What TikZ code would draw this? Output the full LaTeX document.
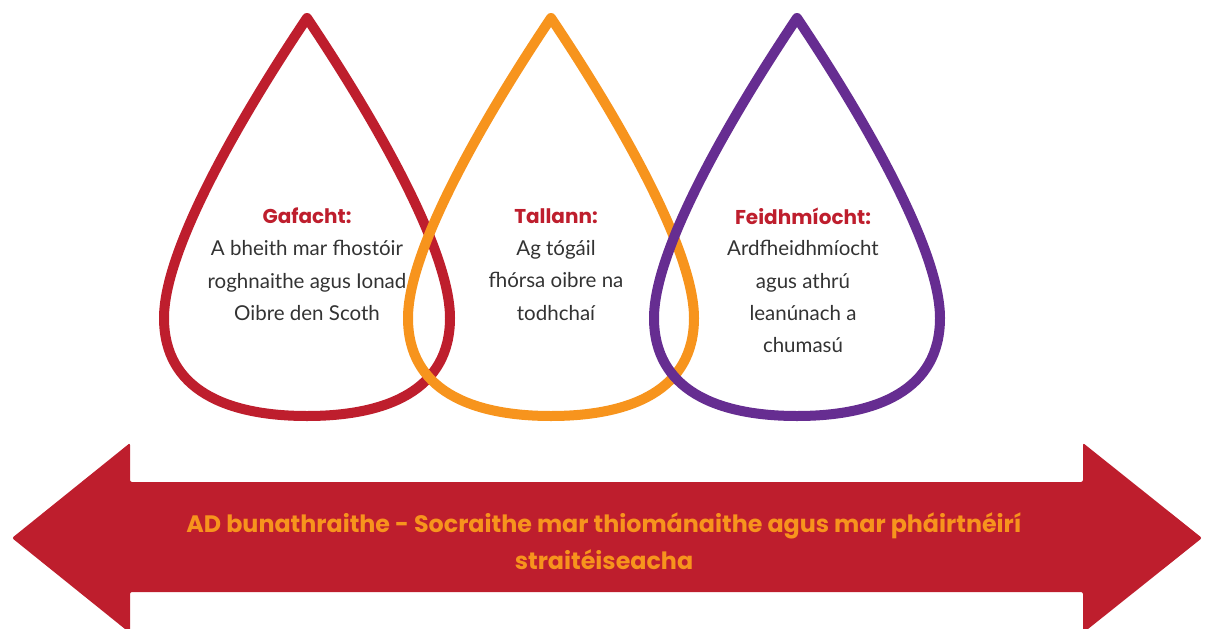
\documentclass[tikz,border=0pt]{standalone}
\usepackage{fontspec}
\setmainfont{Lato}
\newfontfamily\headfont{Poppins}
\definecolor{dred}{HTML}{BE1E2D}
\definecolor{dorange}{HTML}{F7941D}
\definecolor{dpurple}{HTML}{662D91}
\definecolor{dtext}{HTML}{333333}
\tikzset{
  droppath/.style={line width=10pt, line join=round},
  droptitle/.style={font=\headfont\fontsize{20}{24}\selectfont\bfseries, text=dred},
  dropbody/.style={font=\fontsize{20.5}{32.3}\selectfont, text=dtext, align=center},
  bandtext/.style={font=\headfont\fontsize{23.8}{37}\selectfont\bfseries, text=dorange, align=center}
}
\newcommand{\mydrop}[2]{%
  \draw[droppath, draw=#2] (#1,18) .. controls (#1+45,85) and (#1+143,240) .. (#1+143,318)
    .. controls (#1+143,390) and (#1+80,416) .. (#1,416)
    .. controls (#1-80,416) and (#1-143,390) .. (#1-143,318)
    .. controls (#1-143,240) and (#1-45,85) .. cycle;}
\begin{document}
\begin{tikzpicture}[x=1pt,y=-1pt]
\useasboundingbox (0,0) rectangle (1208,629);
\begin{scope}
\clip (0,0) rectangle (1208,629);
\fill[dred, rounded corners=2pt] (12,538) -- (130,443) -- (130,482) -- (1083,482) -- (1083,443)
  -- (1202,538) -- (1083,633) -- (1083,592) -- (130,592) -- (130,633) -- cycle;
\end{scope}
\node[bandtext] (band) at (604,541) {AD bunathraithe - Socraithe mar thiománaithe agus mar pháirtnéirí\\straitéiseacha};
\mydrop{307}{dred}
\mydrop{551}{dorange}
\mydrop{797}{dpurple}
\node[droptitle] (t1) at (307,216) {Gafacht:};
\node[dropbody, anchor=north] (b1) at (307,237) {A bheith mar fhostóir\\roghnaithe agus Ionad\\Oibre den Scoth};
\node[droptitle] (t2) at (556,216) {Tallann:};
\node[dropbody, anchor=north] (b2) at (556,237) {Ag tógáil\\fhórsa oibre na\\todhchaí};
\node[droptitle] (t3) at (803,216) {Feidhmíocht:};
\node[dropbody, anchor=north] (b3) at (803,237) {Ardfheidhmíocht\\agus athrú\\leanúnach a\\chumasú};
\end{tikzpicture}
\end{document}
